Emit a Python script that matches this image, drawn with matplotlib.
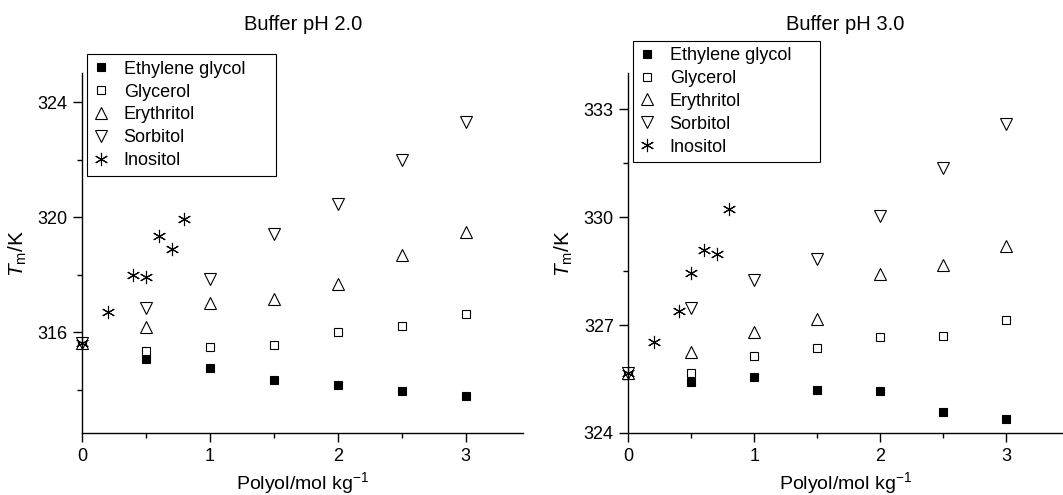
import matplotlib.pyplot as plt
from matplotlib.ticker import MultipleLocator

plt.rcParams['font.family'] = ['Liberation Sans', 'DejaVu Sans']
plt.rcParams['mathtext.fontset'] = 'custom'
plt.rcParams['mathtext.rm'] = 'Liberation Sans'
plt.rcParams['mathtext.it'] = 'Liberation Sans:italic'

# Polyol concentrations (mol/kg)
conc = [0, 0.5, 1, 1.5, 2, 2.5, 3]
conc_inositol = [0, 0.2, 0.4, 0.5, 0.6, 0.7, 0.8]

# Melting temperatures (K), buffer pH 2.0
ph2_ethylene_glycol = [315.63, 315.07, 314.75, 314.33, 314.16, 313.97, 313.77]
ph2_glycerol = [315.63, 315.35, 315.50, 315.55, 316.01, 316.23, 316.65]
ph2_erythritol = [315.63, 316.20, 317.01, 317.17, 317.67, 318.67, 319.48]
ph2_sorbitol = [315.63, 316.85, 317.86, 319.42, 320.47, 321.97, 323.30]
ph2_inositol = [315.63, 316.69, 318.00, 317.91, 319.35, 318.90, 319.94]

# Melting temperatures (K), buffer pH 3.0
ph3_ethylene_glycol = [325.66, 325.43, 325.55, 325.20, 325.18, 324.59, 324.40]
ph3_glycerol = [325.66, 325.66, 326.14, 326.36, 326.68, 326.71, 327.15]
ph3_erythritol = [325.66, 326.26, 326.82, 327.17, 328.41, 328.68, 329.19]
ph3_sorbitol = [325.66, 327.48, 328.25, 328.84, 330.03, 331.37, 332.60]
ph3_inositol = [325.66, 326.53, 327.40, 328.46, 329.08, 328.98, 330.24]

labels = ['Ethylene glycol', 'Glycerol', 'Erythritol', 'Sorbitol', 'Inositol']


def draw_panel(ax, series, title, ylim, ymajor, legend_top):
    styles = [
        dict(marker='s', ms=6, mfc='black', mec='black'),
        dict(marker='s', ms=6, mfc='white', mec='black'),
        dict(marker='^', ms=8, mfc='white', mec='black'),
        dict(marker='v', ms=8, mfc='white', mec='black'),
        dict(marker=(6, 2, 0), ms=9.5, mfc='black', mec='black'),
    ]
    for i, (ys, label, st) in enumerate(zip(series, labels, styles)):
        xs = conc_inositol if i == 4 else conc
        ax.plot(xs, ys, linestyle='none', mew=0.8, label=label, clip_on=False, **st)

    ax.set_xlim(0, 3.45)
    ax.set_ylim(*ylim)
    ax.xaxis.set_major_locator(MultipleLocator(1))
    ax.xaxis.set_minor_locator(MultipleLocator(0.5))
    ax.yaxis.set_major_locator(MultipleLocator(ymajor))
    ax.yaxis.set_minor_locator(MultipleLocator(ymajor / 2))
    ax.tick_params(which='major', length=6.5, width=1, labelsize=13, pad=4)
    ax.tick_params(which='minor', length=3.5, width=1)
    for side in ('top', 'right'):
        ax.spines[side].set_visible(False)
    for side in ('left', 'bottom'):
        ax.spines[side].set_linewidth(1)

    ax.set_title(title, fontsize=14.5, pad=31)
    ax.set_xlabel('Polyol/mol kg$^{-1}$', fontsize=14, labelpad=4)
    ax.set_ylabel('$T_\\mathrm{m}$/K', fontsize=15, labelpad=6)

    # fixed-width frame via expand mode
    leg = ax.legend(loc='upper left', bbox_to_anchor=(0.01, legend_top - 0.4, 0.43, 0.4),
                    mode='expand', fontsize=13, frameon=True, fancybox=False,
                    edgecolor='black', handlelength=0.9, handletextpad=0.8,
                    labelspacing=0.33, borderpad=0.35, borderaxespad=0, framealpha=1)
    leg.get_frame().set_linewidth(0.8)


fig = plt.figure(figsize=(10.63, 4.95), dpi=100)
ax1 = fig.add_axes([0.0774, 0.1253, 0.4146, 0.7266])
ax2 = fig.add_axes([0.5911, 0.1253, 0.4089, 0.7266])

draw_panel(ax1,
           [ph2_ethylene_glycol, ph2_glycerol, ph2_erythritol, ph2_sorbitol, ph2_inositol],
           'Buffer pH 2.0', (312.5, 325), 4, 1.053)
draw_panel(ax2,
           [ph3_ethylene_glycol, ph3_glycerol, ph3_erythritol, ph3_sorbitol, ph3_inositol],
           'Buffer pH 3.0', (324, 334), 3, 1.091)

fig.savefig('out.png', dpi=100)
